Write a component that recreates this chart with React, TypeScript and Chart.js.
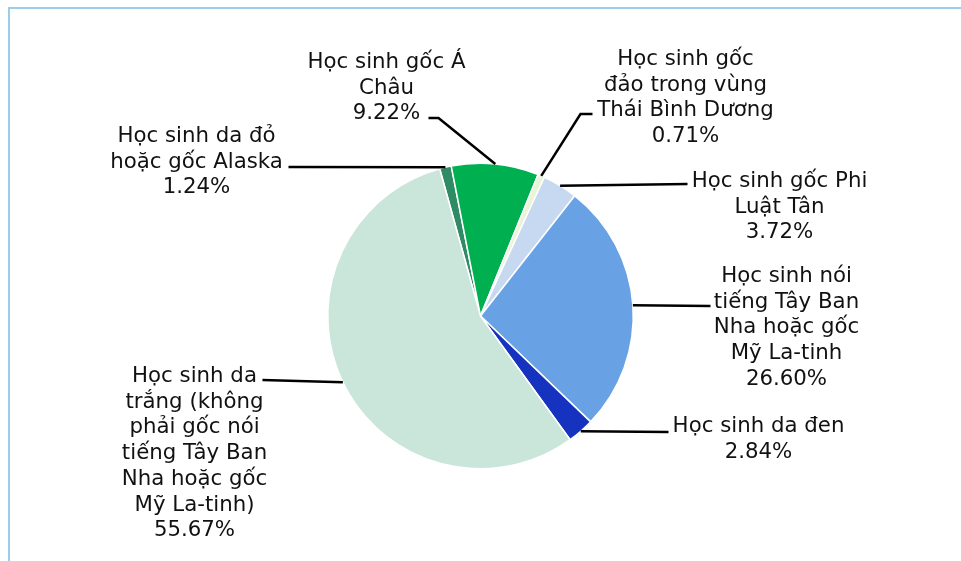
import React, { useEffect, useRef } from "react";
import { Chart, registerables } from "chart.js";

Chart.register(...registerables);

// ---- Data ----
const categories: string[] = [
  "Học sinh da đỏ hoặc gốc Alaska",
  "Học sinh gốc Á Châu",
  "Học sinh gốc đảo trong vùng Thái Bình Dương",
  "Học sinh gốc Phi Luật Tân",
  "Học sinh nói tiếng Tây Ban Nha hoặc gốc Mỹ La-tinh",
  "Học sinh da đen",
  "Học sinh da trắng (không phải gốc nói tiếng Tây Ban Nha hoặc gốc Mỹ La-tinh)",
];
const values: number[] = [1.24, 9.22, 0.71, 3.72, 26.6, 2.84, 55.67];

// wrapped label lines (as in the reference)
const labelLines: string[][] = [
  ["Học sinh da đỏ", "hoặc gốc Alaska"],
  ["Học sinh gốc Á", "Châu"],
  ["Học sinh gốc", "đảo trong vùng", "Thái Bình Dương"],
  ["Học sinh gốc Phi", "Luật Tân"],
  ["Học sinh nói", "tiếng Tây Ban", "Nha hoặc gốc", "Mỹ La-tinh"],
  ["Học sinh da đen"],
  ["Học sinh da", "trắng (không", "phải gốc nói", "tiếng Tây Ban", "Nha hoặc gốc", "Mỹ La-tinh)"],
];

// ---- Styles / layout ----
const colors = ["#2E8B63", "#00B050", "#EAF5D6", "#C6D9F1", "#69A2E4", "#1533BE", "#CAE6DA"];
// label text anchor (center x, first baseline) relative to pie center
const labelAnchor: [number, number][] = [
  [-284, -174],
  [-94, -248],
  [205, -251],
  [299, -129],
  [306, -34],
  [278, 116],
  [-286, 66],
];
// leader polyline points (after the arc point), relative to pie center
const leaderPts: [number, number][][] = [
  [[-192, -149]],
  [[-42, -198], [-52, -198]],
  [[100, -202], [112, -202]],
  [[207, -132]],
  [[230, -10]],
  [[188, 116]],
  [[-218, 64]],
];
const FONT = "21.3px 'DejaVu Sans'";
const LINE_H = 25.7;

const labelPlugin = {
  id: "pieLabels",
  beforeDraw(chart: any) {
    const ctx = chart.ctx;
    ctx.save();
    ctx.fillStyle = "#9CCDE8";
    ctx.fillRect(8, 7, 2, 554);
    ctx.fillRect(8, 7, 953, 2);
    ctx.restore();
  },
  afterDraw(chart: any) {
    const ctx = chart.ctx;
    const meta = chart.getDatasetMeta(0);
    ctx.save();
    meta.data.forEach((arc: any, i: number) => {
      const { x, y, startAngle, endAngle, outerRadius } = arc.getProps(
        ["x", "y", "startAngle", "endAngle", "outerRadius"],
        true
      );
      const mid = (startAngle + endAngle) / 2;
      const px = x + Math.cos(mid) * outerRadius;
      const py = y + Math.sin(mid) * outerRadius;
      ctx.strokeStyle = "#000";
      ctx.lineWidth = 2.5;
      ctx.beginPath();
      ctx.moveTo(px, py);
      leaderPts[i].forEach(([dx, dy]) => ctx.lineTo(x + dx, y + dy));
      ctx.stroke();

      ctx.fillStyle = "#111111";
      ctx.font = FONT;
      ctx.textAlign = "center";
      ctx.textBaseline = "alphabetic";
      const lines = [...labelLines[i], values[i].toFixed(2) + "%"];
      const [ax, ay] = labelAnchor[i];
      lines.forEach((ln, k) => ctx.fillText(ln, x + ax, y + ay + k * LINE_H));
    });
    ctx.restore();
  },
};

export default function App() {
  const ref = useRef<HTMLCanvasElement>(null);
  useEffect(() => {
    document.body.style.margin = "0";
    document.body.style.overflow = "hidden";
    const chart = new Chart(ref.current!, {
      type: "pie",
      data: {
        labels: categories,
        datasets: [
          {
            data: values,
            backgroundColor: colors,
            borderColor: "#ffffff",
            borderWidth: 1.5,
          },
        ],
      },
      options: {
        animation: false,
        responsive: false,
        rotation: -15.5,
        layout: { padding: { left: 327, right: 327, top: 162, bottom: 91 } },
        plugins: {
          legend: { display: false },
          tooltip: { enabled: false },
        },
      },
      plugins: [labelPlugin],
    });
    return () => chart.destroy();
  }, []);
  return (
    <div style={{ position: "fixed", left: 0, top: 0, width: 961, height: 561, background: "#fff" }}>
      <canvas ref={ref} width={961} height={561} style={{ display: "block" }} />
    </div>
  );
}
